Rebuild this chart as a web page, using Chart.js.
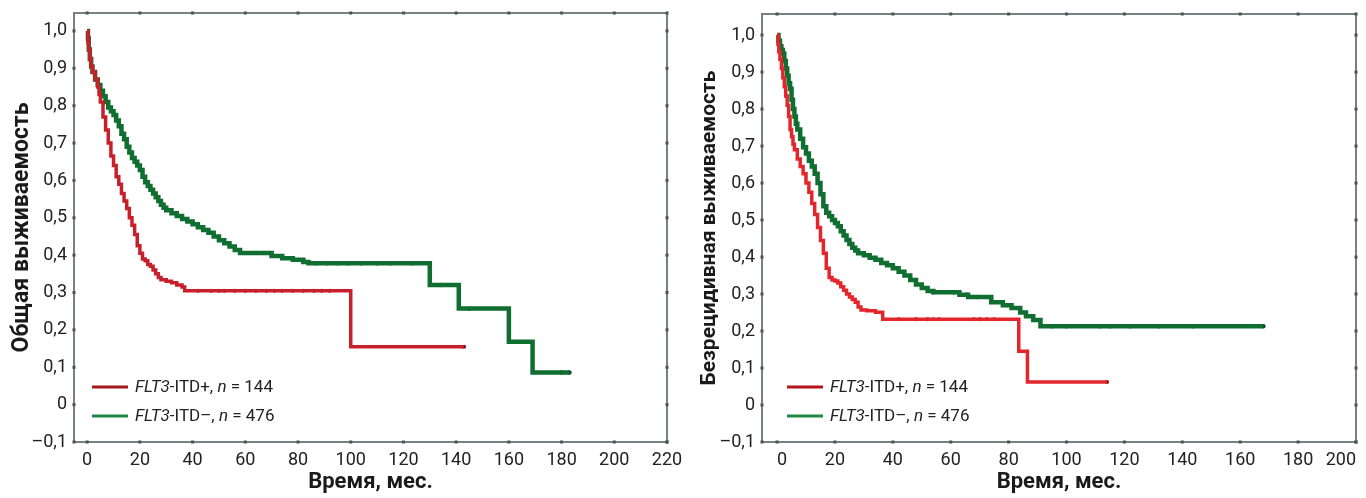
<html>
<head>
<meta charset="UTF-8">
<title>FLT3-ITD: общая и безрецидивная выживаемость</title>
<style>
body {
    margin: 0;
    background: white;
}

div.panel {
    position: absolute;
    top: 0;
    width: 683px;
    height: 498px;
}
</style>
<script src="https://cdn.jsdelivr.net/npm/chart.js@4/dist/chart.umd.min.js"></script>
</head>
<body>
<div class="panel" style="left:0"><canvas id="os" width="683" height="498"></canvas></div>
<div class="panel" style="left:683px"><canvas id="rfs" width="683" height="498"></canvas></div>
<script>
// Общая выживаемость, FLT3-ITD+
const osPlusT = [0, 0.3, 0.6, 1, 1.5, 2, 3, 4, 4.5, 5, 6, 7, 8, 9, 10, 11, 12, 13, 14, 15, 16, 17, 18, 19, 20, 21, 22, 23, 24, 25, 26, 27, 28, 30, 32, 34, 36, 37, 100, 143]
const osPlusS = [1.0, 0.97, 0.95, 0.925, 0.905, 0.89, 0.87, 0.85, 0.83, 0.81, 0.77, 0.735, 0.70, 0.665, 0.64, 0.61, 0.59, 0.565, 0.545, 0.525, 0.50, 0.48, 0.455, 0.425, 0.405, 0.39, 0.385, 0.375, 0.37, 0.36, 0.35, 0.34, 0.334, 0.33, 0.326, 0.32, 0.315, 0.305, 0.155, 0.155]
const osPlusCens = [42, 47, 50, 52, 56, 60, 64, 68, 71, 74, 78, 82, 86, 89, 92, 143]
// Общая выживаемость, FLT3-ITD–
const osMinusT = [0, 0.3, 0.6, 1, 1.5, 2, 3, 4, 5, 6, 7, 8, 9, 10, 11, 12, 13, 14, 15, 16, 17, 18, 19, 20, 21, 22, 23, 24, 25, 26, 27, 28, 29, 30, 32, 34, 36, 38, 40, 42, 44, 46, 48, 50, 52, 54, 56, 58, 70, 74, 78, 82, 84, 130, 141, 160, 169, 183]
const osMinusS = [1.0, 0.98, 0.95, 0.925, 0.905, 0.89, 0.87, 0.855, 0.84, 0.825, 0.81, 0.795, 0.785, 0.775, 0.76, 0.745, 0.725, 0.71, 0.69, 0.675, 0.66, 0.65, 0.64, 0.628, 0.61, 0.595, 0.585, 0.575, 0.565, 0.555, 0.545, 0.535, 0.527, 0.52, 0.512, 0.505, 0.497, 0.49, 0.483, 0.475, 0.467, 0.46, 0.45, 0.44, 0.432, 0.423, 0.414, 0.406, 0.398, 0.392, 0.388, 0.382, 0.378, 0.32, 0.257, 0.168, 0.086, 0.086]
const osMinusCens = [62, 67, 70, 83, 87, 91, 95, 99, 104, 110, 115, 123, 134, 145, 180, 183]

// Безрецидивная выживаемость, FLT3-ITD+
const rfsPlusT = [0, 0.3, 0.6, 1, 1.5, 2, 2.5, 3, 3.5, 4, 4.5, 5, 5.5, 6, 7, 8, 9, 10, 11, 12, 13, 14, 15, 16, 17, 18, 19, 20, 21, 22, 23, 24, 25, 26, 27, 28, 29, 31, 34, 36.5, 83.5, 86.5, 114]
const rfsPlusS = [1.0, 0.975, 0.955, 0.935, 0.91, 0.885, 0.86, 0.835, 0.81, 0.78, 0.745, 0.725, 0.705, 0.69, 0.665, 0.645, 0.625, 0.60, 0.575, 0.545, 0.515, 0.48, 0.445, 0.41, 0.37, 0.345, 0.338, 0.335, 0.33, 0.32, 0.31, 0.30, 0.292, 0.285, 0.278, 0.265, 0.257, 0.255, 0.251, 0.232, 0.145, 0.062, 0.062]
const rfsPlusCens = [42, 48, 52, 54, 56, 68, 70, 72.5, 75, 114]
// Безрецидивная выживаемость, FLT3-ITD–
const rfsMinusT = [0, 0.5, 1, 1.5, 2, 2.5, 3, 3.5, 4, 4.5, 5, 5.5, 6, 6.5, 7, 8, 9, 10, 11, 12, 13, 14, 15, 16, 17, 18, 19, 20, 21, 22, 23, 24, 25, 26, 27, 28, 30, 32, 34, 36, 38, 40, 42, 44, 46, 48, 50, 52, 54, 63, 66, 74, 78, 81, 84, 86, 88.5, 91, 168]
const rfsMinusS = [1.0, 0.985, 0.97, 0.96, 0.95, 0.93, 0.91, 0.89, 0.87, 0.855, 0.825, 0.80, 0.78, 0.76, 0.745, 0.72, 0.697, 0.68, 0.66, 0.645, 0.625, 0.60, 0.57, 0.537, 0.52, 0.51, 0.50, 0.492, 0.483, 0.47, 0.458, 0.446, 0.435, 0.425, 0.418, 0.41, 0.405, 0.398, 0.393, 0.384, 0.378, 0.37, 0.36, 0.35, 0.338, 0.326, 0.316, 0.308, 0.305, 0.298, 0.292, 0.278, 0.27, 0.262, 0.25, 0.24, 0.23, 0.213, 0.213]
const rfsMinusCens = [54, 61, 65.5, 69, 79.5, 95, 100, 111.5, 115, 122, 132, 143.5, 168]

const osXTicks = [0, 20, 40, 60, 80, 100, 120, 140, 160, 180, 200, 220]
const rfsXTicks = [0, 20, 40, 60, 80, 100, 120, 140, 160, 180, 200]
const yTicks = [-0.1, 0, 0.1, 0.2, 0.3, 0.4, 0.5, 0.6, 0.7, 0.8, 0.9, 1.0]
const yTickLabels = ["–0,1", "0", "0,1", "0,2", "0,3", "0,4", "0,5", "0,6", "0,7", "0,8", "0,9", "1,0"]

// [текст, курсив]
const legendPlus = [["FLT3", true], ["-ITD+, ", false], ["n", true], [" = 144", false]]
const legendMinus = [["FLT3", true], ["-ITD–, ", false], ["n", true], [" = 476", false]]

const FONT = "Roboto, 'Liberation Sans', sans-serif"

function km(T, S) {
    return T.map((t, i) => ({x: t, y: S[i]}))
}

// значение ступенчатой кривой в момент t
function stepAt(T, S, t) {
    var v = S[0]
    for (var i = 0; i < T.length; ++i) {
        if (T[i] <= t) v = S[i]
    }
    return v
}

function cens(T, S, C) {
    return C.map(t => ({x: t, y: stepAt(T, S, t)}))
}

function framePlugin(legendX, colors) {
    return {
        id: "frame",
        afterDatasetsDraw(chart) {
            const ctx = chart.ctx
            const a = chart.chartArea
            const sx = chart.scales.x, sy = chart.scales.y
            ctx.save()
            ctx.strokeStyle = "#758282"
            ctx.lineWidth = 2
            ctx.strokeRect(a.left, a.top, a.right - a.left, a.bottom - a.top)
            ctx.fillStyle = "#4a5252"
            sx.ticks.forEach(t => {
                const px = sx.getPixelForValue(t.value)
                ctx.fillRect(px - 1.5, a.top - 1.5, 3, 3)
                ctx.fillRect(px - 1.5, a.bottom - 1.5, 3, 3)
            })
            sy.ticks.forEach(t => {
                const py = sy.getPixelForValue(t.value)
                ctx.fillRect(a.left - 1.5, py - 1.5, 3, 3)
                ctx.fillRect(a.right - 1.5, py - 1.5, 3, 3)
            })
            // легенда
            const rows = [[legendPlus, colors[0], 387], [legendMinus, colors[1], 416]]
            rows.forEach(r => {
                ctx.strokeStyle = r[1]
                ctx.lineWidth = 3
                ctx.beginPath()
                ctx.moveTo(legendX, r[2])
                ctx.lineTo(legendX + 36, r[2])
                ctx.stroke()
                var x = legendX + 43
                ctx.fillStyle = "#222"
                ctx.textBaseline = "middle"
                ctx.textAlign = "left"
                r[0].forEach(seg => {
                    ctx.font = (seg[1] ? "italic " : "") + "17px " + FONT
                    ctx.fillText(seg[0], x, r[2] + 1)
                    x += ctx.measureText(seg[0]).width
                })
            })
            ctx.restore()
        },
    }
}

function makeChart(id, cfg) {
    const tickFont = {family: FONT, size: 18}
    return new Chart(document.getElementById(id), {
        type: "line",
        data: {
            datasets: [
                {data: km(cfg.plusT, cfg.plusS), stepped: "before", borderColor: cfg.red, borderWidth: 3.5, pointRadius: 0},
                {data: km(cfg.minusT, cfg.minusS), stepped: "before", borderColor: "#0f6e30", borderWidth: 4.5, pointRadius: 0},
                {data: cens(cfg.plusT, cfg.plusS, cfg.plusCens), showLine: false, pointRadius: 2, pointBackgroundColor: "#7a1015", pointBorderWidth: 0},
                {data: cens(cfg.minusT, cfg.minusS, cfg.minusCens), showLine: false, pointRadius: 2.2, pointBackgroundColor: "#0a4420", pointBorderWidth: 0},
            ],
        },
        options: {
            responsive: false,
            animation: false,
            layout: {padding: {top: cfg.top, right: cfg.right, left: 0, bottom: 0}},
            plugins: {legend: {display: false}, tooltip: {enabled: false}},
            scales: {
                x: {
                    type: "linear",
                    min: cfg.xMin,
                    max: cfg.xMax,
                    afterBuildTicks: s => { s.ticks = cfg.xTicks.map(v => ({value: v})) },
                    afterFit: s => { s.height = 56; s.paddingLeft = 0; s.paddingRight = 0 },
                    grid: {display: false, drawTicks: false},
                    border: {display: false},
                    ticks: {font: tickFont, color: "#222", padding: 8, align: cfg.xAlign, maxRotation: 0, autoSkip: false, callback: v => String(v)},
                    title: {display: true, text: "Время, мес.", font: {family: FONT, size: 22, weight: "bold"}, color: "#1a1a1a", padding: {top: 0, bottom: 2}},
                },
                y: {
                    min: -0.1,
                    max: cfg.yMax,
                    afterBuildTicks: s => { s.ticks = yTicks.map(v => ({value: v})) },
                    afterFit: s => { s.width = cfg.yWidth; s.paddingTop = 0; s.paddingBottom = 0 },
                    grid: {display: false, drawTicks: false},
                    border: {display: false},
                    ticks: {font: tickFont, color: "#222", padding: 7, autoSkip: false, callback: (v, i) => yTickLabels[i]},
                    title: {display: true, text: cfg.yTitle, font: {family: FONT, size: cfg.yTitleSize, weight: "bold"}, color: "#1a1a1a", padding: {top: cfg.titlePad, bottom: 0}},
                },
            },
        },
        plugins: [framePlugin(cfg.legendX, [cfg.legendRed, "#1c8a45"])],
    })
}

makeChart("os", {
    plusT: osPlusT, plusS: osPlusS, plusCens: osPlusCens,
    minusT: osMinusT, minusS: osMinusS, minusCens: osMinusCens,
    xTicks: osXTicks, xMin: -5, xMax: 220, yMax: 1.048,
    top: 13, right: 16, yWidth: 74, titlePad: 8, yTitleSize: 23, xAlign: "center",
    yTitle: "Общая выживаемость", red: "#c8202a", legendRed: "#a3161b", legendX: 92,
})

makeChart("rfs", {
    plusT: rfsPlusT, plusS: rfsPlusS, plusCens: rfsPlusCens,
    minusT: rfsMinusT, minusS: rfsMinusS, minusCens: rfsMinusCens,
    xTicks: rfsXTicks, xMin: -5.2, xMax: 200, yMax: 1.057,
    top: 14, right: 10, yWidth: 79, titlePad: 14, yTitleSize: 21, xAlign: "inner",
    yTitle: "Безрецидивная выживаемость", red: "#e3262c", legendRed: "#b3141a", legendX: 104,
})
</script>
</body>
</html>
